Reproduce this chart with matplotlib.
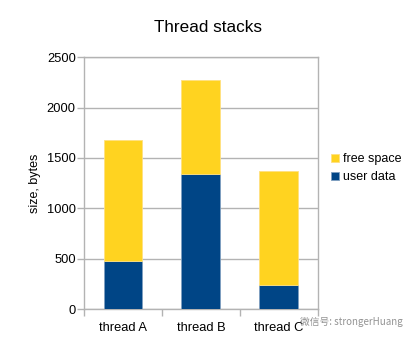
import matplotlib
matplotlib.use("Agg")
import matplotlib.pyplot as plt
import numpy as np

plt.rcParams['font.family'] = ['Liberation Sans', 'DejaVu Sans']

threads = ["thread A", "thread B", "thread C"]
user_data = [480, 1340, 240]
free_space = [1200, 930, 1130]

yellow = "#ffd320"
blue = "#004586"
grey = "#b3b3b3"

fig = plt.figure(figsize=(4.16, 3.4), dpi=100)
ax = fig.add_axes([0.202, 0.091, 0.562, 0.741])

x = np.arange(len(threads))
ax.bar(x, user_data, width=0.5, color=blue, edgecolor="#7f9fc0", linewidth=0.6,
       label="user data", zorder=3)
ax.bar(x, free_space, width=0.5, bottom=user_data, color=yellow, edgecolor="#ffe080",
       linewidth=0.6, label="free space", zorder=3)

ax.set_xlim(-0.5, 2.5)
ax.set_ylim(0, 2500)
ax.set_yticks(range(0, 2501, 500))
ax.set_xticks(x)
ax.set_xticklabels(threads)
# category boundary tick marks like the original
ax.set_xticks([-0.5, 0.5, 1.5, 2.5], minor=True)
ax.tick_params(axis="x", which="major", length=0, pad=9)
ax.tick_params(axis="x", which="minor", length=5, color=grey, width=1)
ax.tick_params(axis="y", length=5, color=grey, width=1, pad=1)
ax.tick_params(labelsize=9.3)
ax.grid(axis="y", color=grey, linewidth=1, zorder=0)
for s in ax.spines.values():
    s.set_color(grey)
    s.set_linewidth(1)

ax.set_ylabel("size, bytes", fontsize=9, labelpad=4)
fig.text(0.5, 0.92, "Thread stacks", ha="center", va="center", fontsize=12.3)

handles, labels = ax.get_legend_handles_labels()
fig.legend(handles[::-1], labels[::-1], loc="center left", bbox_to_anchor=(0.795, 0.505),
           frameon=False, fontsize=9, handlelength=0.65, handleheight=0.65,
           handletextpad=0.3, labelspacing=0.45, borderpad=0, borderaxespad=0)

# watermark
fig.text(0.722, 0.052, "微信号: strongerHuang", fontsize=7, color="#808080", alpha=0.85,
         family=["Noto Sans CJK SC", "DejaVu Sans"], ha="left", va="center")

fig.savefig("out.png", dpi=100)
